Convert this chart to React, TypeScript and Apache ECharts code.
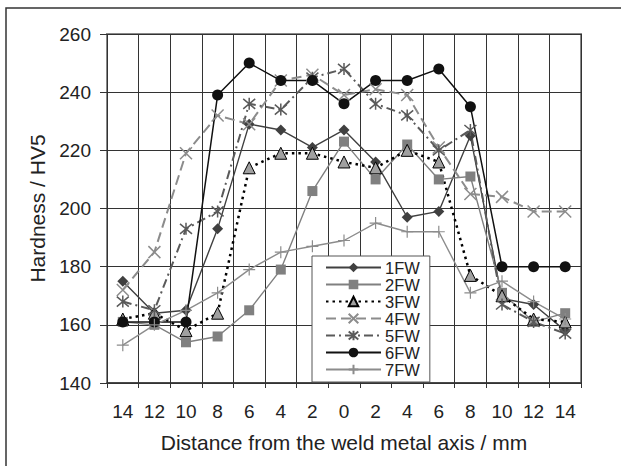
import React, { useEffect, useRef } from "react";
import * as echarts from "echarts";

const xLabels = ["14", "12", "10", "8", "6", "4", "2", "0", "2", "4", "6", "8", "10", "12", "14"];
const seriesNames = ["1FW", "2FW", "3FW", "4FW", "5FW", "6FW", "7FW"];
const s1FW = [175, 164, 165, 193, 229, 227, 221, 227, 216, 197, 199, 225, 169, 167, 158];
const s2FW = [161, 160, 154, 156, 165, 179, 206, 223, 210, 222, 210, 211, 171, 161, 164];
const s3FW = [162, 164, 158, 164, 214, 219, 219, 216, 214, 220, 216, 177, 170, 162, 161];
const s4FW = [172, 185, 219, 232, 229, 244, 246, 239, 241, 239, 221, 205, 204, 199, 199];
const s5FW = [168, 165, 193, 199, 236, 234, 245, 248, 236, 232, 220, 227, 167, 161, 157];
const s6FW = [161, 161, 161, 239, 250, 244, 244, 236, 244, 244, 248, 235, 180, 180, 180];
const s7FW = [153, 160, 165, 171, 179, 185, 187, 189, 195, 192, 192, 171, 175, 168, 162];
const yTicks = { min: 140, max: 260, interval: 20 };

const FONT = "'Liberation Sans', Arial, sans-serif";
const X_PATH = "path://M0 0L10 10M10 0L0 10";
const AST_PATH = "path://M0 0L10 10M10 0L0 10M5 -1L5 11";
const PLUS_PATH = "path://M5 0L5 10M0 5L10 5";

export default function App() {
  const ref = useRef<HTMLDivElement>(null);
  useEffect(() => {
    if (!ref.current) return;
    const chart = echarts.init(ref.current, undefined, { renderer: "svg" });
    const base = (name: string, data: number[]) => ({
      name,
      type: "line",
      data,
      symbolSize: 9,
      z: 3,
    });
    chart.setOption({
      animation: false,
      backgroundColor: "#fff",
      textStyle: { fontFamily: FONT },
      graphic: [
        {
          type: "rect",
          shape: { x: 6, y: 8, width: 700, height: 600 },
          style: { fill: "none", stroke: "#333", lineWidth: 1.5 },
          z: -1,
        },
      ],
      grid: {
        left: 107,
        right: 40,
        top: 34,
        bottom: 83,
        show: true,
        borderColor: "#888",
        borderWidth: 2,
        backgroundColor: "transparent",
      },
      legend: {
        orient: "vertical",
        left: 312,
        top: 256,
        data: seriesNames,
        backgroundColor: "#fff",
        borderColor: "#555",
        borderWidth: 1,
        borderRadius: 0,
        padding: [3, 10, 4, 13],
        itemWidth: 55,
        itemHeight: 12,
        itemGap: 0,
        textStyle: { fontSize: 16.5, lineHeight: 17, color: "#222", fontFamily: FONT, padding: [0, 0, 0, -1] },
      },
      xAxis: {
        type: "category",
        data: xLabels,
        boundaryGap: true,
        name: "Distance from the weld metal axis / mm",
        nameLocation: "middle",
        nameGap: 49,
        nameTextStyle: { fontSize: 21, color: "#222", fontFamily: FONT },
        axisLine: { show: true, lineStyle: { color: "#333", width: 1.5 } },
        axisTick: { show: true, alignWithLabel: false, length: 5, lineStyle: { color: "#333" } },
        axisLabel: { fontSize: 19, color: "#222", margin: 19, interval: 0, fontFamily: FONT },
        splitLine: { show: true, interval: 0, lineStyle: { color: "#333", width: 1 } },
      },
      yAxis: {
        type: "value",
        min: yTicks.min,
        max: yTicks.max,
        interval: yTicks.interval,
        name: "Hardness / HV5",
        nameLocation: "middle",
        nameGap: 58,
        nameTextStyle: { fontSize: 21, color: "#222", fontFamily: FONT },
        axisLine: { show: false },
        axisTick: { show: true, length: 7, lineStyle: { color: "#333" } },
        axisLabel: { fontSize: 19, color: "#222", margin: 16, fontFamily: FONT },
        splitLine: { show: true, lineStyle: { color: "#333", width: 1 } },
      },
      series: [
        {
          ...base("1FW", s1FW),
          symbol: "diamond",
          symbolSize: 11,
          itemStyle: { color: "#404040" },
          lineStyle: { color: "#404040", width: 1.4, type: "solid" },
        },
        {
          ...base("2FW", s2FW),
          symbol: "rect",
          symbolSize: 10,
          itemStyle: { color: "#808080" },
          lineStyle: { color: "#808080", width: 1.4, type: "solid" },
        },
        {
          ...base("3FW", s3FW),
          symbol: "triangle",
          symbolSize: 12,
          itemStyle: { color: "#a0a0a0", borderColor: "#000", borderWidth: 1 },
          lineStyle: { color: "#000", width: 2.5, type: [2.5, 4] },
        },
        {
          ...base("4FW", s4FW),
          symbol: X_PATH,
          symbolSize: 12,
          itemStyle: { color: "#8c8c8c", borderColor: "#8c8c8c", borderWidth: 1.5 },
          lineStyle: { color: "#8c8c8c", width: 2, type: [10, 5] },
        },
        {
          ...base("5FW", s5FW),
          symbol: AST_PATH,
          symbolSize: 12,
          itemStyle: { color: "#5a5a5a", borderColor: "#5a5a5a", borderWidth: 1.5 },
          lineStyle: { color: "#5a5a5a", width: 2, type: [9, 4, 2, 4] },
        },
        {
          ...base("6FW", s6FW),
          symbol: "circle",
          symbolSize: 11,
          itemStyle: { color: "#111" },
          lineStyle: { color: "#111", width: 1.5, type: "solid" },
        },
        {
          ...base("7FW", s7FW),
          symbol: PLUS_PATH,
          symbolSize: 12,
          itemStyle: { color: "#8c8c8c", borderColor: "#8c8c8c", borderWidth: 1.2 },
          lineStyle: { color: "#8c8c8c", width: 1.4, type: "solid" },
        },
      ],
    });
    return () => chart.dispose();
  }, []);
  return (
    <div
      ref={ref}
      style={{ position: "fixed", left: 0, top: 0, width: 621, height: 466, background: "#fff" }}
    />
  );
}
